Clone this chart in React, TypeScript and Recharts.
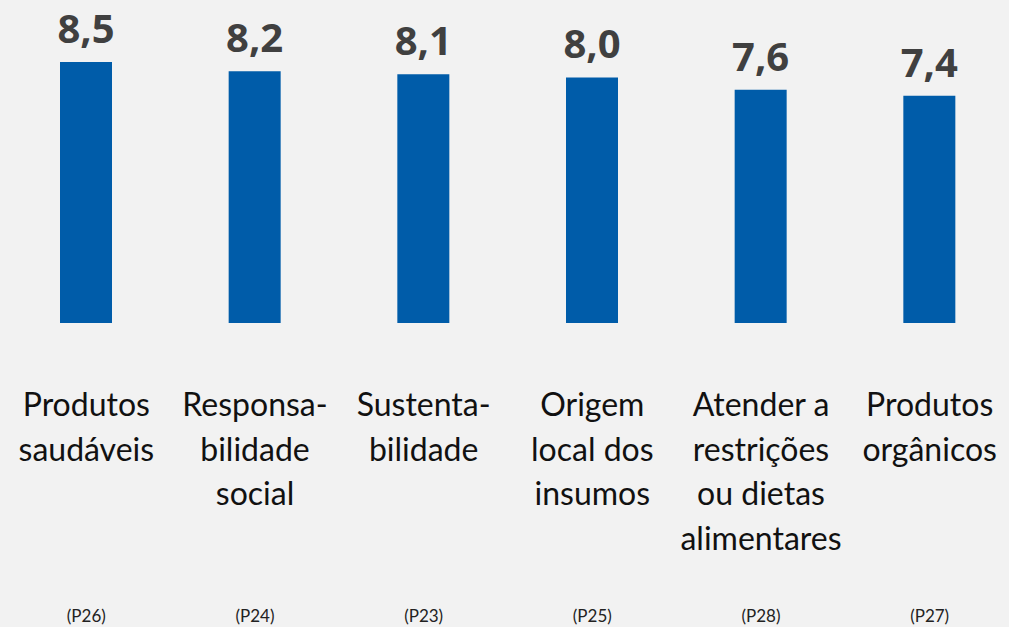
import React from "react";
import { BarChart, Bar, XAxis, YAxis, LabelList } from "recharts";

const categories: string[][] = [
  ["Produtos", "saudáveis"],
  ["Responsa-", "bilidade", "social"],
  ["Sustenta-", "bilidade"],
  ["Origem", "local dos", "insumos"],
  ["Atender a", "restrições", "ou dietas", "alimentares"],
  ["Produtos", "orgânicos"],
];
const values: number[] = [8.5, 8.2, 8.1, 8.0, 7.6, 7.4];
const codes: string[] = ["(P26)", "(P24)", "(P23)", "(P25)", "(P28)", "(P27)"];

const data = categories.map((c, i) => ({ name: String(i), value: values[i] }));

const CatTick = (props: any) => {
  const { x, y, payload } = props;
  const idx = Number(payload.value);
  const lines = categories[idx] || [];
  return (
    <g>
      {lines.map((l, j) => (
        <text
          key={j}
          x={x}
          y={y + 93 + j * 44.5}
          textAnchor="middle"
          fontFamily="Lato, sans-serif"
          fontSize={32}
          fill="#111111"
        >
          {l}
        </text>
      ))}
      <text
        x={x}
        y={y + 299}
        textAnchor="middle"
        fontFamily="Lato, sans-serif"
        fontSize={17}
        fill="#222222"
      >
        {codes[idx]}
      </text>
    </g>
  );
};

export default function App() {
  return (
    <div
      style={{
        position: "absolute",
        left: 0,
        top: 0,
        width: 1009,
        height: 627,
        overflow: "hidden",
        background: "#f2f2f2",
      }}
    >
      <BarChart
        width={1016}
        height={627}
        data={data}
        margin={{ top: 16, right: 2, bottom: 0, left: 2 }}
        barCategoryGap={0}
      >
        <YAxis hide domain={[0, 10]} />
        <XAxis
          dataKey="name"
          axisLine={false}
          tickLine={false}
          tickSize={0}
          tickMargin={0}
          height={304}
          interval={0}
          tick={<CatTick />}
        />
        <Bar dataKey="value" fill="#005ca9" barSize={52} isAnimationActive={false}>
          <LabelList
            dataKey="value"
            position="top"
            offset={19}
            formatter={(v: any) => Number(v).toFixed(1).replace(".", ",")}
            style={{
              fontFamily: "'Open Sans', sans-serif",
              fontWeight: 700,
              fontSize: 40,
              fill: "#404040",
            }}
          />
        </Bar>
      </BarChart>
    </div>
  );
}
